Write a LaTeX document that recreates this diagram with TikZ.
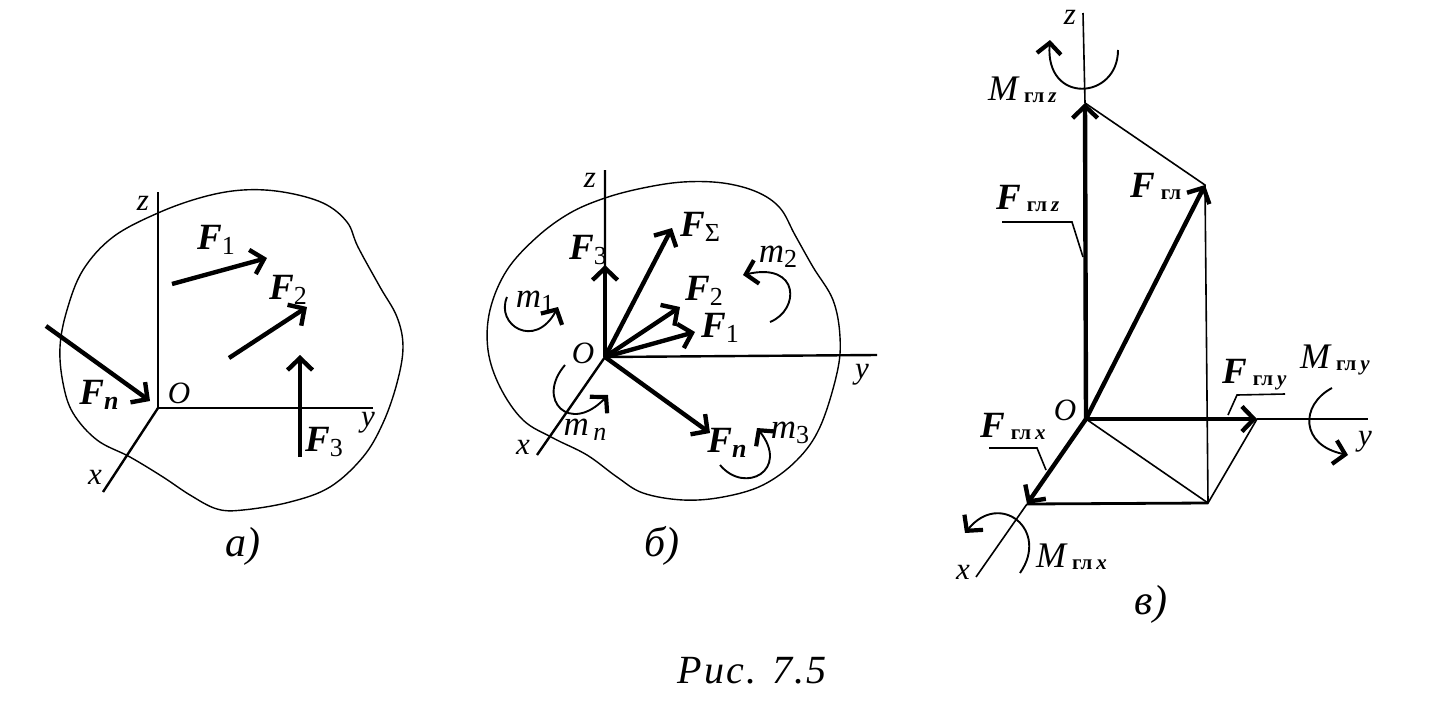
\documentclass[tikz,border=0pt]{standalone}
\usepackage{fontspec}
\setmainfont{Liberation Serif}
\usetikzlibrary{arrows.meta}

\newcommand{\bigF}[1]{{\fontsize{37}{37}\selectfont\bfseries\itshape F}\raisebox{-5pt}{\fontsize{26}{26}\selectfont\upshape #1}}
\newcommand{\momm}[1]{{\fontsize{35}{35}\selectfont\itshape m}\raisebox{-5pt}{\fontsize{26}{26}\selectfont\upshape #1}}
\newcommand{\bigM}{{\fontsize{36}{36}\selectfont\itshape M}}
\newcommand{\gl}[1]{\hspace{6pt}\raisebox{-2pt}{\fontsize{21}{21}\selectfont\upshape\bfseries гл\hspace{4pt}\itshape #1}}

\tikzset{
    blob/.style={line width=1.4pt},
    axis/.style={line width=2.4pt},
    thinline/.style={line width=1.6pt},
    force/.style={line width=4.4pt, -{Straight Barb[length=12pt, width=25pt, line width=4.4pt]}},
    moment/.style={line width=1.9pt, -{Straight Barb[length=11pt, width=24pt, line width=4.2pt]}},
    lab/.style={inner sep=0pt, font=\fontsize{31}{31}\selectfont\itshape},
    caption/.style={inner sep=0pt, font=\fontsize{42}{42}\selectfont\itshape}
}

\begin{document}
\begin{tikzpicture}[x=1pt, y=-1pt]
    \useasboundingbox (0,0) rectangle (1446,720);

    % picture a
    \draw[blob] plot[smooth cycle, tension=0.6] coordinates {(158,213) (203,197) (243,190) (283,192) (323,203) (347,222) (358,247) (380,287) (397,317) (403,347) (397,383) (383,423) (363,457) (330,487) (290,502) (243,510) (217,509) (190,495) (163,477) (130,457) (97,440) (73,413) (63,383) (60,347) (67,310) (83,270) (113,237)};

    \coordinate (aO) at (158,408);
    \coordinate (az) at (158,192);
    \coordinate (ay) at (373,408);
    \coordinate (ax) at (103,492);
    \draw[axis] (az)--(aO)--(ay);
    \draw[axis] (aO)--(ax);

    \coordinate (aF1s) at (172,284);
    \coordinate (aF1e) at (267,258);
    \coordinate (aF2s) at (229,358);
    \coordinate (aF2e) at (307,307);
    \coordinate (aF3s) at (300,457);
    \coordinate (aF3e) at (300,355);
    \coordinate (aFns) at (46,326);
    \coordinate (aFne) at (150,401);
    \draw[force] (aF1s)--(aF1e);
    \draw[force] (aF2s)--(aF2e);
    \draw[force] (aF3s)--(aF3e);
    \draw[force] (aFns)--(aFne);

    % notation
    \node[lab] (lazz) at (143,203) {z};
    \node[lab] (laO) at (179,393) {O};
    \node[lab] (lay) at (368,423) {y};
    \node[lab] (lax) at (95,477) {x};
    \node[lab] (laF1) at (216,240) {\bigF{1}};
    \node[lab] (laF2) at (288,290) {\bigF{2}};
    \node[lab] (laF3) at (324,442) {\bigF{3}};
    \node[lab] (laFn) at (99,395) {\bigF{\bfseries\itshape n}};
    \node[caption] (capa) at (243,546) {а)};

    % picture b
    \draw[blob] plot[smooth cycle, tension=0.6] coordinates {(605,198) (643,188) (683,182) (723,183) (757,192) (780,208) (795,235) (813,267) (833,300) (840,337) (837,373) (820,427) (797,460) (763,485) (723,497) (683,500) (643,493) (617,477) (587,455) (553,438) (523,420) (500,387) (488,350) (490,310) (507,270) (537,237) (570,213)};

    \coordinate (bO) at (605,357);
    \coordinate (bz) at (605,170);
    \coordinate (by) at (877,355);
    \coordinate (bx) at (537,455);
    \draw[axis] (bz)--(bO)--(by);
    \draw[axis] (bO)--(bx);

    \coordinate (bF3) at (605,265);
    \coordinate (bFs) at (672,228);
    \coordinate (bF2) at (680,307);
    \coordinate (bF1) at (695,332);
    \coordinate (bFn) at (710,433);
    \draw[force] (bO)--(bF3);
    \draw[force] (bO)--(bFs);
    \draw[force] (bO)--(bF2);
    \draw[force] (bO)--(bF1);
    \draw[force] (bO)--(bFn);

    \draw[moment] (507,297) .. controls (495,325) and (535,350) .. (558,307);
    \draw[moment] (770,322) .. controls (800,310) and (800,262) .. (743,275);
    \draw[moment] (720,465) .. controls (745,495) and (790,470) .. (757,428);
    \draw[moment] (565,365) .. controls (535,400) and (570,435) .. (608,395);

    % notation
    \node[lab] (lbz) at (590,180) {z};
    \node[lab] (lbO) at (583,353) {O};
    \node[lab] (lby) at (862,375) {y};
    \node[lab] (lbx) at (523,447) {x};
    \node[lab] (lbF3) at (588,250) {\bigF{3}};
    \node[lab] (lbFs) at (700,227) {\bigF{Σ}};
    \node[lab] (lbF2) at (704,291) {\bigF{2}};
    \node[lab] (lbF1) at (720,328) {\bigF{1}};
    \node[lab] (lbFn) at (727,443) {\bigF{\bfseries\itshape n}};
    \node[lab] (lbm1) at (535,302) {\momm{1}};
    \node[lab] (lbm2) at (778,257) {\momm{2}};
    \node[lab] (lbm3) at (790,433) {\momm{3}};
    \node[lab] (lbmn) at (585,430) {\momm{\itshape\,n}};
    \node[caption] (capb) at (662,546) {б)};

    % picture c
    \coordinate (cO) at (1086,419);
    \coordinate (cz) at (1083,13);
    \coordinate (cFz) at (1085,103);
    \coordinate (cF) at (1205,185);
    \coordinate (cFy) at (1257,419);
    \coordinate (cy) at (1368,419);
    \coordinate (cFx) at (1027,504);
    \coordinate (cx) at (976,577);
    \coordinate (cP) at (1208,503);

    \draw[thinline] (cz)--(cFz);
    \draw[thinline] (cFz)--(cF)--(cP);
    \draw[thinline] (cFy)--(cy);
    \draw[thinline] (cFx)--(cx);
    \draw[thinline] (cO)--(cP)--(cFy);
    \draw[line width=2.8pt] (cFx)--(cP);

    \draw[force] (cO)--(cFz);
    \draw[force] (cO)--(cF);
    \draw[force] (cO)--(cFy);
    \draw[force] (cO)--(cFx);

    \draw[moment] (1118,50) .. controls (1118,100) and (1045,105) .. (1050,40);
    \draw[moment] (1332,388) .. controls (1300,405) and (1300,445) .. (1348,455);
    \draw[moment] (1020,573) .. controls (1050,530) and (1000,490) .. (965,533);

    \draw[thinline] (1002,222)--(1072,222)--(1083,257);
    \draw[thinline] (1285,394)--(1237,395)--(1228,415);
    \draw[thinline] (989,448)--(1037,448)--(1046,470);

    % notation
    \node[lab] (lcz) at (1070,17) {z};
    \node[lab] (lcO) at (1065,410) {O};
    \node[lab] (lcy) at (1365,442) {y};
    \node[lab] (lcx) at (963,572) {x};
    \node[lab, anchor=west] (lcMz) at (988,90) {\bigM\gl{z}};
    \node[lab, anchor=west] (lcFz) at (996,200) {\bigF{}\gl{z}};
    \node[lab, anchor=west] (lcF) at (1130,188) {\bigF{}\gl{}};
    \node[lab, anchor=west] (lcFy) at (1222,375) {\bigF{}\gl{y}};
    \node[lab, anchor=west] (lcMy) at (1300,360) {\bigM\gl{y}};
    \node[lab, anchor=west] (lcFx) at (980,428) {\bigF{}\gl{x}};
    \node[lab, anchor=west] (lcMx) at (1036,557) {\bigM\gl{x}};
    \node[caption] (capc) at (1151,604) {в)};

    \node[caption, font=\fontsize{40}{40}\selectfont\itshape\addfontfeature{LetterSpace=5}] (capfig) at (752,671) {Рис. 7.5};
\end{tikzpicture}
\end{document}
